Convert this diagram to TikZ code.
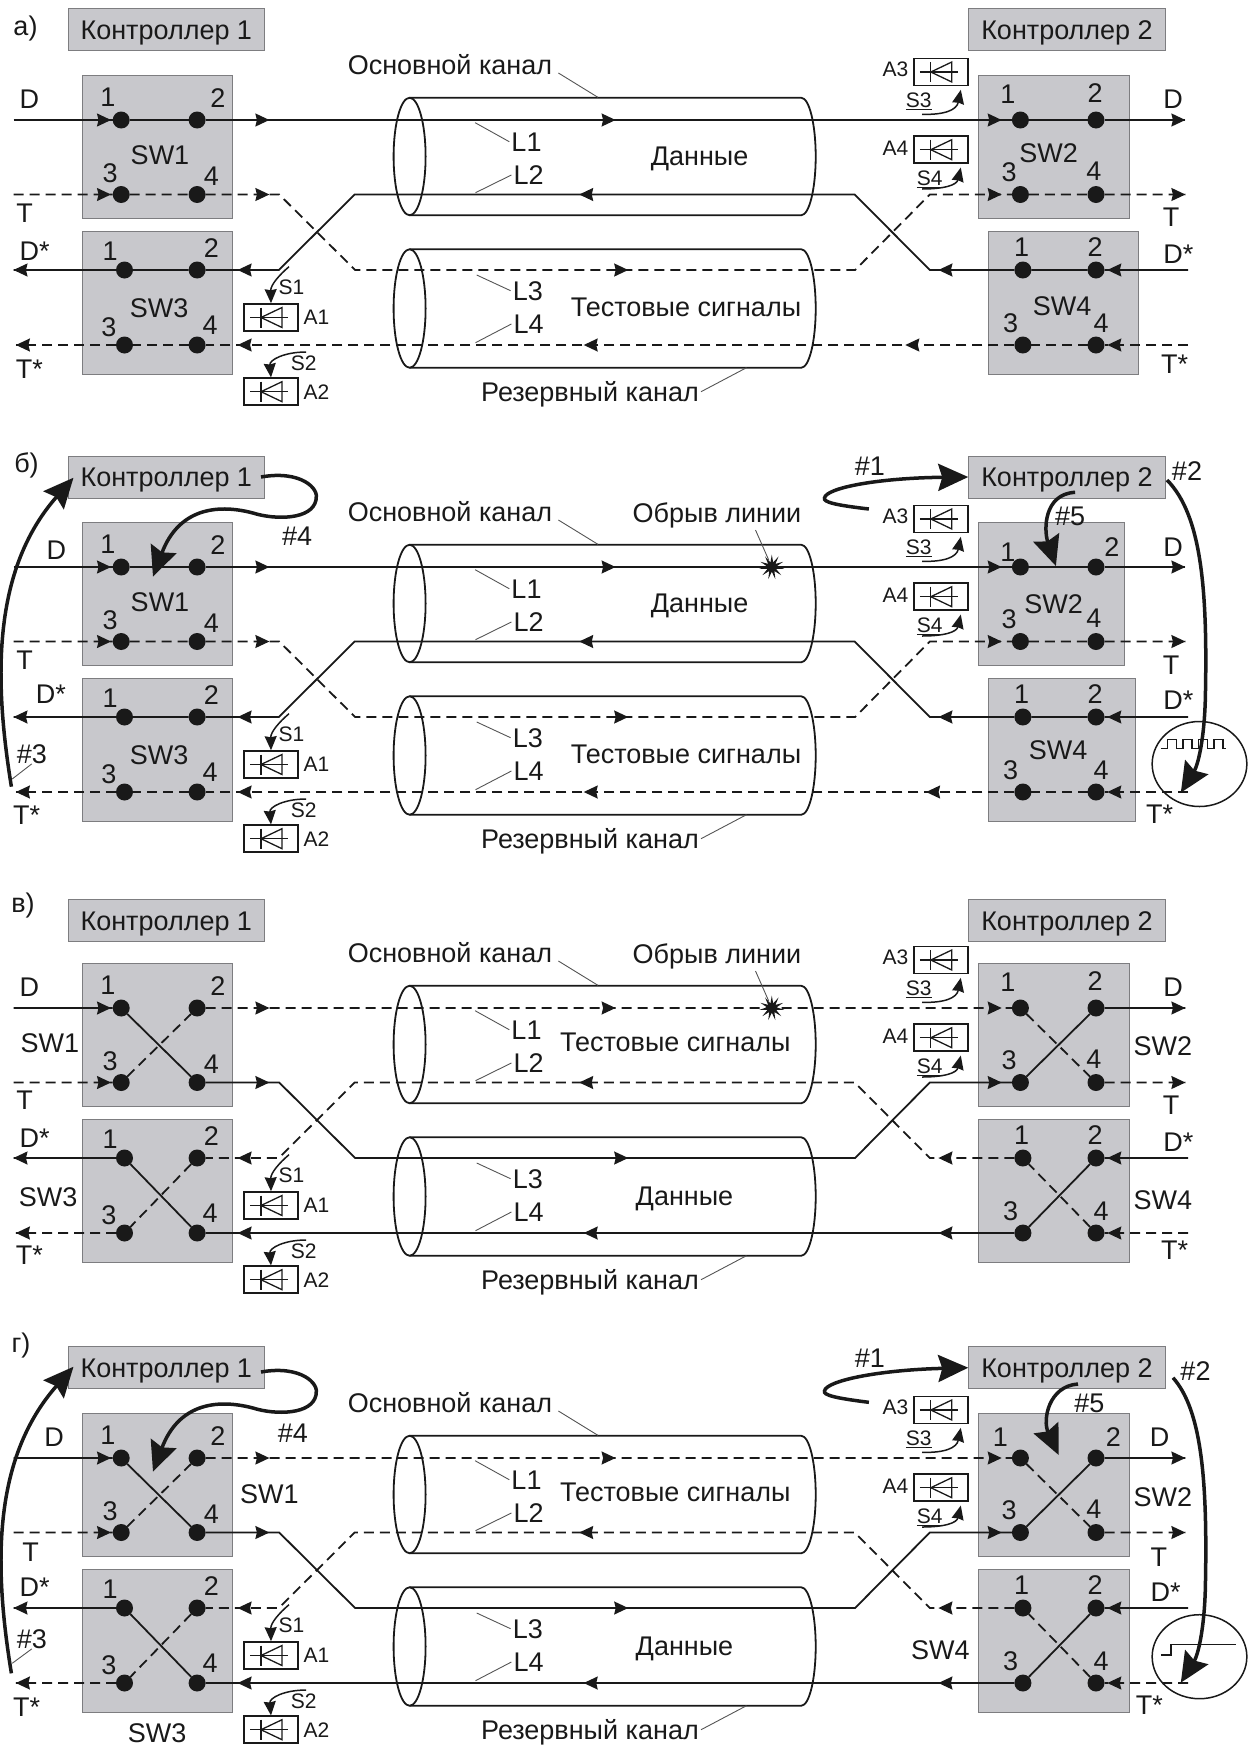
\documentclass[tikz,border=0pt]{standalone}
\usepackage{fontspec}
\setmainfont{Liberation Sans}
\definecolor{BoxGray}{RGB}{200,200,204}
\definecolor{EdgeGray}{RGB}{125,125,128}
\definecolor{InkBlack}{RGB}{25,25,25}
\definecolor{LeadGray}{RGB}{85,85,85}
\usetikzlibrary{
    arrows.meta,
    positioning,
    shapes.geometric
}
\begin{document}
\begin{tikzpicture}[
    x=1pt,
    y=-1pt,
%
    ctrl/.style={
        draw=EdgeGray,
        line width=1pt,
        fill=BoxGray,
        minimum width=196.5pt,
        minimum height=42pt,
        inner sep=0pt,
        text=InkBlack,
        text height=19.3pt,
        text depth=0pt,
        font=\fontsize{27}{29}\selectfont
    },
%
    swbox/.style={
        draw=EdgeGray,
        line width=1pt,
        fill=BoxGray,
        minimum height=143pt,
        inner sep=0pt
    },
%
    port/.style={
        circle,
        fill=InkBlack,
        inner sep=0pt,
        outer sep=0pt,
        minimum size=17pt
    },
%
    lbl/.style={
        inner sep=0pt,
        text=InkBlack,
        text height=19.3pt,
        text depth=0pt,
        font=\fontsize{27}{29}\selectfont
    },
%
    smalllbl/.style={
        inner sep=0pt,
        text=InkBlack,
        text height=15pt,
        text depth=0pt,
        font=\fontsize{21}{23}\selectfont
    },
%
    sig/.style={
        line width=1.8pt,
        draw=InkBlack
    },
%
    dsig/.style={
        sig,
        dash pattern=on 10pt off 6pt
    },
%
    headtip/.style={
        -{Stealth[length=14pt,width=13pt,inset=1.5pt]},
        line width=1.5pt,
        draw=InkBlack
    },
%
    cable/.style={
        draw=InkBlack,
        line width=1.8pt
    },
%
    cableend/.style={
        ellipse,
        cable,
        inner sep=0pt,
        outer sep=0pt,
        minimum width=32pt
    },
%
    leader/.style={
        draw=LeadGray,
        line width=0.9pt
    },
%
    diodebox/.style={
        draw=InkBlack,
        line width=1.6pt,
        minimum width=54pt,
        minimum height=27pt,
        inner sep=0pt
    },
%
    thinarrow/.style={
        -{Stealth[length=14pt,width=12pt,inset=1pt]},
        line width=1.5pt,
        draw=InkBlack
    },
%
    bigarrow/.style={
        -{Stealth[length=30pt,width=27pt,inset=4pt]},
        line width=3.5pt,
        draw=InkBlack
    },
%
    pics/diode/.style={
        code={
            \draw[line width=1.3pt,draw=InkBlack] (-21,0) -- (17,0);
            \draw[line width=1.3pt,draw=InkBlack] (-10,-10) -- (-10,10);
            \draw[line width=1.3pt,draw=InkBlack] (-10,0) -- (11,-10) -- (11,10) -- cycle;
        }
    }
]
\useasboundingbox (0,0) rectangle (1259,1746);
%
% What all four panels share: boxes, ports, cables, diodes.
%
\foreach \p/\oy/\cy/\unx/\swbx/\swbw/\swdx/\swdw/\lAx/\lAy/\lBx/\lBy in {
    a/120/29.6/905.3/1053.9/150.2/1063.3/150/1007.8/-26/1095.1/-27,
    b/567/477/926.1/1051.6/145.7/1061.9/147.3/1007.8/-15/1111.9/-20,
    c/1008/920.5/938.4/1053.9/150.2/1053.9/150.2/1007.8/-26/1095.1/-27,
    d/1458/1367.7/938.4/1053.9/150.2/1053.9/150.2/1000.4/-21/1113.4/-21
} {
    \node[ctrl] (ctrlA\p) at (166.3,\cy) {Контроллер 1};
    \node[ctrl] (ctrlB\p) at (1067,\cy) {Контроллер 2};
    \node[swbox,minimum width=150.3pt] (swA\p) at (157.6,\oy+27.4) {};
    \node[swbox,minimum width=150.3pt] (swC\p) at (157.6,\oy+182.7) {};
    \node[swbox,minimum width=\swbw pt] (swB\p) at (\swbx,\oy+27.4) {};
    \node[swbox,minimum width=\swdw pt] (swD\p) at (\swdx,\oy+182.7) {};
%
    % Cable outlines
    \node[cableend,minimum height=117.5pt] (endA\p) at (409.6,\oy+36.5) {};
    \node[cableend,minimum height=118.5pt] (endB\p) at (409.6,\oy+188.5) {};
    \draw[cable] (endA\p.north) -- (801.2,\oy-22.25)
        arc[start angle=90,end angle=-90,x radius=14.5pt,y radius=58.75pt]
        -- (endA\p.south);
    \draw[cable] (endB\p.north) -- (801.2,\oy+129.25)
        arc[start angle=90,end angle=-90,x radius=14.5pt,y radius=59.25pt]
        -- (endB\p.south);
%
    % Way points on the four signal rows
    \coordinate (Dl\p) at (13.5,\oy);
    \coordinate (Da\p) at (111,\oy);
    \coordinate (Db\p) at (269.4,\oy);
    \coordinate (Dc\p) at (615.6,\oy);
    \coordinate (Dd\p) at (1001.7,\oy);
    \coordinate (Dr\p) at (1185.4,\oy);
    \coordinate (Tl\p) at (13.5,\oy+74.5);
    \coordinate (Ta\p) at (111,\oy+74.5);
    \coordinate (Tb\p) at (269.4,\oy+74.5);
    \coordinate (Te\p) at (279.2,\oy+74.5);
    \coordinate (Tf\p) at (354.7,\oy+74.5);
    \coordinate (Tm\p) at (579.2,\oy+74.5);
    \coordinate (Tg\p) at (854.7,\oy+74.5);
    \coordinate (Th\p) at (929.8,\oy+74.5);
    \coordinate (Td\p) at (1001.7,\oy+74.5);
    \coordinate (Tr\p) at (1185.4,\oy+74.5);
    \coordinate (Sl\p) at (13.5,\oy+150);
    \coordinate (Sb\p) at (237.6,\oy+150);
    \coordinate (Se\p) at (278.8,\oy+150);
    \coordinate (Sf\p) at (355.1,\oy+150);
    \coordinate (Sm\p) at (628.2,\oy+150);
    \coordinate (Sg\p) at (855.1,\oy+150);
    \coordinate (Sh\p) at (929.8,\oy+150);
    \coordinate (Sn\p) at (938.4,\oy+150);
    \coordinate (Sq\p) at (1107.3,\oy+150);
    \coordinate (Sr\p) at (1188.2,\oy+150);
    \coordinate (Ul\p) at (15.9,\oy+225);
    \coordinate (Ub\p) at (237.6,\oy+225);
    \coordinate (Um\p) at (583.7,\oy+225);
    \coordinate (Un\p) at (\unx,\oy+225);
    \coordinate (Uq\p) at (1107.3,\oy+225);
    \coordinate (Ur\p) at (1188.2,\oy+225);
%
    % Ports
    \node[port] (pA1\p) at (121.2,\oy) {};
    \node[port] (pA2\p) at (197.1,\oy) {};
    \node[port] (pA3\p) at (121.2,\oy+74.5) {};
    \node[port] (pA4\p) at (197.1,\oy+74.5) {};
    \node[port] (pB1\p) at (1020.4,\oy) {};
    \node[port] (pB2\p) at (1096,\oy) {};
    \node[port] (pB3\p) at (1020.4,\oy+74.5) {};
    \node[port] (pB4\p) at (1096,\oy+74.5) {};
    \node[port] (pC1\p) at (124.5,\oy+150) {};
    \node[port] (pC2\p) at (197.1,\oy+150) {};
    \node[port] (pC3\p) at (124.5,\oy+225) {};
    \node[port] (pC4\p) at (197.1,\oy+225) {};
    \node[port] (pD1\p) at (1022.9,\oy+150) {};
    \node[port] (pD2\p) at (1096,\oy+150) {};
    \node[port] (pD3\p) at (1022.9,\oy+225) {};
    \node[port] (pD4\p) at (1096,\oy+225) {};
%
    % Port numbers
    \node[lbl] (nA1\p) at (107.8,\oy-23) {1};
    \node[lbl] (nA2\p) at (218,\oy-22) {2};
    \node[lbl] (nA3\p) at (110.2,\oy+53) {3};
    \node[lbl] (nA4\p) at (211.5,\oy+55.7) {4};
    \node[lbl] (nB1\p) at (\lAx,\oy+\lAy) {1};
    \node[lbl] (nB2\p) at (\lBx,\oy+\lBy) {2};
    \node[lbl] (nB3\p) at (1009,\oy+52) {3};
    \node[lbl] (nB4\p) at (1093.9,\oy+50.7) {4};
    \node[lbl] (nC1\p) at (110.2,\oy+130.7) {1};
    \node[lbl] (nC2\p) at (211.5,\oy+128) {2};
    \node[lbl] (nC3\p) at (109,\oy+207) {3};
    \node[lbl] (nC4\p) at (210.2,\oy+205) {4};
    \node[lbl] (nD1\p) at (1021.6,\oy+127) {1};
    \node[lbl] (nD2\p) at (1095.1,\oy+127) {2};
    \node[lbl] (nD3\p) at (1010.6,\oy+203) {3};
    \node[lbl] (nD4\p) at (1101.2,\oy+203) {4};
%
    % Diodes
    \node[diodebox] (diA\p) at (271,\oy+197.5) {};
    \node[diodebox] (diB\p) at (271,\oy+271.7) {};
    \node[diodebox] (diC\p) at (940.8,\oy-48) {};
    \node[diodebox] (diD\p) at (940.8,\oy+29.7) {};
    \pic at (diA\p) {diode};
    \pic at (diB\p) {diode};
    \pic at (diC\p) {diode};
    \pic at (diD\p) {diode};
    \node[smalllbl] (aA\p) at (316.5,\oy+197) {A1};
    \node[smalllbl] (aB\p) at (316.5,\oy+271.7) {A2};
    \node[smalllbl] (aC\p) at (895.5,\oy-50.7) {A3};
    \node[smalllbl] (aD\p) at (895.5,\oy+27.7) {A4};
    \node[smalllbl] (sA\p) at (291.4,\oy+166.7) {S1};
    \node[smalllbl] (sB\p) at (303.7,\oy+243) {S2};
    \node[smalllbl] (sC\p) at (918.8,\oy-20) {\underline{S3}};
    \node[smalllbl] (sD\p) at (929.8,\oy+58.3) {\underline{S4}};
    \coordinate (fA\p) at (289,\oy+146.7);
    \coordinate (fB\p) at (306.1,\oy+232);
    \coordinate (fC\p) at (922,\oy-5.7);
    \coordinate (fD\p) at (922,\oy+69);
    \draw[thinarrow] (fA\p) .. controls (279.2,\oy+155) and (270.6,\oy+165) .. (diA\p.north);
    \draw[thinarrow] (fB\p) .. controls (284,\oy+232) and (269.4,\oy+240) .. (diB\p.north);
    \draw[thinarrow] (fC\p) .. controls (944.5,\oy-5) and (956.7,\oy-10)
        .. ([shift={(20,3.5)}]diC\p.south);
    \draw[thinarrow] (fD\p) .. controls (944.5,\oy+69) and (956.7,\oy+65)
        .. ([shift={(20,3.5)}]diD\p.south);
%
    % Cable names and line names
    \node[lbl] (main\p) at (450,\oy-55) {Основной канал};
    \node[lbl] (spare\p) at (590,\oy+271.7) {Резервный канал};
    \node[lbl] (lA\p) at (526.5,\oy+21.7) {L1};
    \node[lbl] (lB\p) at (528.6,\oy+55) {L2};
    \node[lbl] (lC\p) at (527.8,\oy+170.7) {L3};
    \node[lbl] (lD\p) at (528.6,\oy+204) {L4};
    \coordinate (kM\p) at (597.9,\oy-22.7);
    \coordinate (kS\p) at (746.5,\oy+247.7);
    \coordinate (kA\p) at (475.1,\oy+2.7);
    \coordinate (kB\p) at (475.5,\oy+72.7);
    \coordinate (kC\p) at (476.7,\oy+155);
    \coordinate (kD\p) at (475.5,\oy+222.7);
    \draw[leader] ([shift={(6,8)}]main\p.east) -- (kM\p);
    \draw[leader] ([xshift=2pt]spare\p.east) -- (kS\p);
    \draw[leader] ([xshift=-2pt]lA\p.west) -- (kA\p);
    \draw[leader] ([xshift=-2pt]lB\p.west) -- (kB\p);
    \draw[leader] ([xshift=-2pt]lC\p.west) -- (kC\p);
    \draw[leader] ([xshift=-2pt]lD\p.west) -- (kD\p);
%
    % Arrow heads stand at the same places on every panel
    \foreach \cc in {Da,Db,Dc,Dd,Dr,Ta,Tb,Td,Tr,Sm}
        \draw[headtip] ([xshift=-2pt]\cc\p) -- (\cc\p);
    \foreach \cc in {Tm,Sl,Sb,Sn,Sq,Ul,Ub,Um,Un,Uq}
        \draw[headtip] ([xshift=2pt]\cc\p) -- (\cc\p);
}
%
% Panels a and b: the switches pass straight through.
%
\foreach \p in {a,b} {
    \draw[sig] (Dl\p) -- (pA1\p) -- (pA2\p) -- (pB1\p) -- (pB2\p) -- (Dr\p);
    \draw[sig] (Sr\p) -- (pD2\p) -- (pD1\p) -- (Sh\p) -- (Tg\p) -- (Tf\p) -- (Se\p) -- (pC2\p) -- (pC1\p) -- (Sl\p);
    \draw[dsig] (Tl\p) -- (pA3\p) -- (pA4\p) -- (Te\p) -- (Sf\p) -- (Sg\p) -- (Th\p) -- (pB3\p) -- (pB4\p) -- (Tr\p);
    \draw[dsig] (Ur\p) -- (pD4\p) -- (pD3\p) -- (pC4\p) -- (pC3\p) -- (Ul\p);
}
%
% Panels c and d: the switches are crossed over.
%
\foreach \p in {c,d} {
    \draw[sig] (Dl\p) -- (pA1\p) -- (pA4\p) -- (Te\p) -- (Sf\p) -- (Sg\p) -- (Th\p) -- (pB3\p) -- (pB2\p) -- (Dr\p);
    \draw[sig] (Sr\p) -- (pD2\p) -- (pD3\p) -- (pC4\p) -- (pC1\p) -- (Sl\p);
    \draw[dsig] (Tl\p) -- (pA3\p) -- (pA2\p) -- (pB1\p) -- (pB4\p) -- (Tr\p);
    \draw[dsig] (Ur\p) -- (pD4\p) -- (pD1\p) -- (Sh\p) -- (Tg\p) -- (Tf\p) -- (Se\p) -- (pC2\p) -- (pC3\p) -- (Ul\p);
}
%
% Line break on panels b and c
%
\foreach \p/\oy in {b/567,c/1008} {
    \node[lbl] (obr\p) at (717,\oy-54) {Обрыв линии};
    \node[
        star,
        star points=11,
        star point ratio=2.6,
        fill=InkBlack,
        inner sep=0pt,
        minimum size=25pt
    ] (brk\p) at (771.8,\oy) {};
    \coordinate (kO\p) at (755.5,\oy-37);
    \draw[leader] (kO\p) -- (brk\p);
}
%
% Panel letters
%
\node[lbl] (tagA) at (25.5,26) {а)};
\node[lbl] (tagB) at (26.5,463) {б)};
\node[lbl] (tagC) at (23,903) {в)};
\node[lbl] (tagD) at (21,1343) {г)};
%
% Panel a: labels
%
\node[lbl] (swlAa) at (160,155) {SW1};
\node[lbl] (swlCa) at (159.2,308) {SW3};
\node[lbl] (swlBa) at (1048.6,153) {SW2};
\node[lbl] (swlDa) at (1062,306) {SW4};
\node[lbl] (inDa) at (29.4,99) {D};
\node[lbl] (inTa) at (24.5,213) {T};
\node[lbl] (inSa) at (34.7,251) {D*};
\node[lbl] (inUa) at (29.4,369) {T*};
\node[lbl] (outDa) at (1173,99) {D};
\node[lbl] (outTa) at (1171,217) {T};
\node[lbl] (outSa) at (1178.4,254) {D*};
\node[lbl] (outUa) at (1174.7,363.5) {T*};
\node[lbl] (txtAa) at (699.6,156) {Данные};
\node[lbl] (txtBa) at (686,306.7) {Тестовые сигналы};
%
% Panel b: labels
%
\node[lbl] (swlAb) at (160,602) {SW1};
\node[lbl] (swlCb) at (159.2,755) {SW3};
\node[lbl] (swlBb) at (1053.5,604) {SW2};
\node[lbl] (swlDb) at (1058,750) {SW4};
\node[lbl] (inDb) at (56.3,550) {D};
\node[lbl] (inTb) at (24.5,660) {T};
\node[lbl] (inSb) at (51,694) {D*};
\node[lbl] (inUb) at (26.6,815) {T*};
\node[lbl] (outDb) at (1173,546.7) {D};
\node[lbl] (outTb) at (1171,665) {T};
\node[lbl] (outSb) at (1178.4,700) {D*};
\node[lbl] (outUb) at (1159.7,814) {T*};
\node[lbl] (txtAb) at (699.6,603) {Данные};
\node[lbl] (txtBb) at (686,753.7) {Тестовые сигналы};
%
% Panel c: labels
%
\node[lbl] (swlAc) at (49.8,1043) {SW1};
\node[lbl] (swlCc) at (48.1,1197) {SW3};
\node[lbl] (swlBc) at (1162.8,1045.7) {SW2};
\node[lbl] (swlDc) at (1162.8,1200) {SW4};
\node[lbl] (inDc) at (29.4,987) {D};
\node[lbl] (inTc) at (24.5,1100) {T};
\node[lbl] (inSc) at (34.7,1138) {D*};
\node[lbl] (inUc) at (29.4,1255) {T*};
\node[lbl] (outDc) at (1173,987) {D};
\node[lbl] (outTc) at (1171,1105) {T};
\node[lbl] (outSc) at (1178.4,1141.7) {D*};
\node[lbl] (outUc) at (1174.7,1250) {T*};
\node[lbl] (txtAc) at (675.3,1041.7) {Тестовые сигналы};
\node[lbl] (txtBc) at (684.5,1196) {Данные};
%
% Panel d: labels
%
\node[lbl] (swlAd) at (269.4,1494.3) {SW1};
\node[lbl] (swlCd) at (157.1,1733) {SW3};
\node[lbl] (swlBd) at (1162.8,1496.7) {SW2};
\node[lbl] (swlDd) at (940.4,1650) {SW4};
\node[lbl] (inDd) at (54.2,1436.7) {D};
\node[lbl] (inTd) at (30.6,1551.7) {T};
\node[lbl] (inSd) at (34.7,1587) {D*};
\node[lbl] (inUd) at (26.6,1706.7) {T*};
\node[lbl] (outDd) at (1159.7,1436.7) {D};
\node[lbl] (outTd) at (1158.8,1556.7) {T};
\node[lbl] (outSd) at (1165.7,1591.7) {D*};
\node[lbl] (outUd) at (1149.3,1705) {T*};
\node[lbl] (txtAd) at (675.3,1491.7) {Тестовые сигналы};
\node[lbl] (txtBd) at (684.5,1646) {Данные};
%
% Panel b: steps of the switch-over
%
\node[lbl] (stepAb) at (869.8,466) {\#1};
\node[lbl] (stepBb) at (1187,470.7) {\#2};
\node[lbl] (stepCb) at (31.8,754) {\#3};
\node[lbl] (stepDb) at (297.2,536) {\#4};
\node[lbl] (stepEb) at (1070.2,516) {\#5};
\node[draw=InkBlack,line width=1.5pt,ellipse,inner sep=0pt,minimum width=94.7pt,minimum height=85pt] (probeb) at (1199.5,764) {};
\draw[line width=1.5pt,draw=InkBlack] (1160.8,748.3)
    foreach \k in {0,...,3} { -- ++(6.5,0) -- ++(0,-9) -- ++(9,0) -- ++(0,9) } -- ++(3,0);
\coordinate (fromAb) at (868.9,509);
\coordinate (fromBb) at (1167,480);
\coordinate (toBb) at (1180.8,792.7);
\coordinate (fromCb) at (11.4,786.7);
\coordinate (toCb) at (73.5,477.7);
\coordinate (fromDb) at (261,477);
\coordinate (toDb) at (153,576.7);
\coordinate (fromEb) at (1075.1,492.3);
\coordinate (toEb) at (1055.9,566);
\draw[bigarrow] (fromAb) .. controls (834.3,505) and (823.3,502) .. (824.5,498)
    .. controls (825.7,488) and (877.2,478) .. (ctrlBb.west);
\draw[bigarrow] (fromBb) .. controls (1201.6,515) and (1207.8,590) .. (1205.3,700)
    .. controls (1204.1,740) and (1198,765) .. (toBb);
\draw[bigarrow] (fromCb) .. controls (-6,680) and (-8,570) .. (toCb);
\draw[bigarrow] (fromDb) .. controls (300,470) and (320,488) .. (316,500)
    .. controls (312,520) and (275,520) .. (253,513)
    .. controls (215,503) and (178,510) .. (toDb);
\draw[bigarrow] (fromEb) .. controls (1043.7,494) and (1043.7,530) .. (toEb);
\coordinate (kHb) at (12.2,779);
\draw[leader] (stepCb.south) -- (kHb);
%
% Panel d: steps of the switch-over
%
\node[lbl] (stepAd) at (869.8,1358) {\#1};
\node[lbl] (stepBd) at (1195.5,1371) {\#2};
\node[lbl] (stepCd) at (31.8,1639) {\#3};
\node[lbl] (stepDd) at (293,1432.7) {\#4};
\node[lbl] (stepEd) at (1089.4,1403.3) {\#5};
\node[draw=InkBlack,line width=1.5pt,ellipse,inner sep=0pt,minimum width=94.7pt,minimum height=84pt] (probed) at (1199.5,1656.7) {};
\draw[line width=1.5pt,draw=InkBlack] (1160.8,1655) -- (1171,1655) -- (1171,1644.3) -- (1235.9,1644.3);
\coordinate (fromAd) at (868.9,1402.3);
\coordinate (fromBd) at (1173,1377.7);
\coordinate (toBd) at (1180.8,1682.7);
\coordinate (fromCd) at (11.4,1673.3);
\coordinate (toCd) at (73.5,1366.7);
\coordinate (fromDd) at (261,1372);
\coordinate (toDd) at (153,1471.7);
\coordinate (fromEd) at (1078,1384);
\coordinate (toEd) at (1058.7,1455);
\draw[bigarrow] (fromAd) .. controls (834.3,1398) and (823.3,1395) .. (824.5,1391)
    .. controls (825.7,1381) and (877.2,1370) .. (ctrlBd.west);
\draw[bigarrow] (fromBd) .. controls (1201.6,1410) and (1207.8,1480) .. (1205.3,1590)
    .. controls (1204.1,1630) and (1198,1655) .. (toBd);
\draw[bigarrow] (fromCd) .. controls (-6,1567) and (-8,1459) .. (toCd);
\draw[bigarrow] (fromDd) .. controls (300,1365) and (320,1383) .. (316,1395)
    .. controls (312,1415) and (275,1415) .. (253,1408)
    .. controls (215,1398) and (178,1405) .. (toDd);
\draw[bigarrow] (fromEd) .. controls (1048.6,1386) and (1042.4,1420) .. (toEd);
\coordinate (kHd) at (12.2,1663.3);
\draw[leader] (stepCd.south) -- (kHd);
%
\end{tikzpicture}
\end{document}
